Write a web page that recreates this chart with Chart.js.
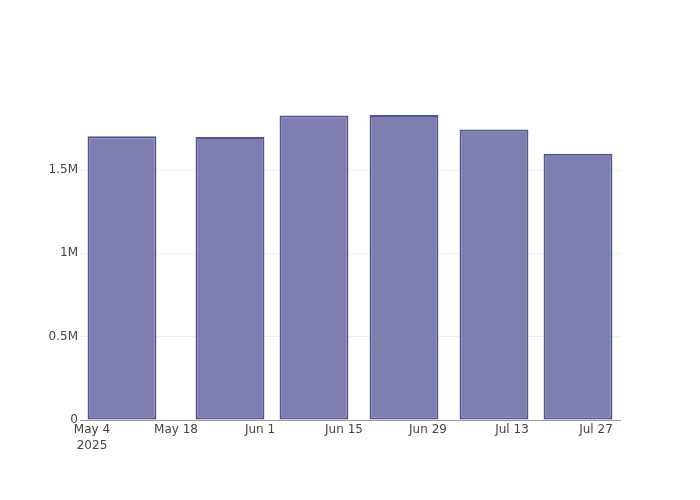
<!DOCTYPE html>
<html>
<head>
<meta charset="utf-8">
<script src="https://cdn.jsdelivr.net/npm/chart.js@4"></script>
<style>
html,body{margin:0;padding:0;background:#fff;}
#wrap{width:700px;height:500px;position:relative;}
</style>
</head>
<body>
<div id="wrap"><canvas id="c" width="700" height="500"></canvas></div>
<script>
const categories = ['2025-05-09','2025-05-27','2025-06-10','2025-06-25','2025-07-10','2025-07-24'];
const values = [1702000, 1698000, 1827000, 1830000, 1743000, 1597000];
const tickDates = ['2025-05-04','2025-05-18','2025-06-01','2025-06-15','2025-06-29','2025-07-13','2025-07-27'];
const tickLabels = [['May 4','2025'],'May 18','Jun 1','Jun 15','Jun 29','Jul 13','Jul 27'];
const yTicks = [0, 500000, 1000000, 1500000];
const yTickLabels = ['0','0.5M','1M','1.5M'];
const xRangeDates = ['2025-05-02','2025-07-31'];
const yMax = 1920000;

const base = Date.parse('2025-05-04T00:00:00Z');
const day = d => (Date.parse(d + 'T00:00:00Z') - base) / 86400000;

const tickPos = tickDates.map(day);
const data = categories.map((c, i) => ({x: day(c), y: values[i]}));

const font = {family: '"DejaVu Sans", verdana, arial, sans-serif', size: 12, lineHeight: 1.3};

new Chart(document.getElementById('c'), {
  type: 'bar',
  data: {
    datasets: [{
      data: data,
      backgroundColor: '#7f7faf',
      borderColor: '#52529a',
      borderWidth: 2,
      borderSkipped: false,
      barPercentage: 0.82,
      categoryPercentage: 1.0
    }]
  },
  options: {
    responsive: false,
    animation: false,
    layout: {padding: {left: 0, right: 80, top: 100, bottom: 0}},
    plugins: {legend: {display: false}, tooltip: {enabled: false}},
    scales: {
      x: {
        type: 'linear',
        offset: false,
        min: day(xRangeDates[0]),
        max: day(xRangeDates[1]),
        afterBuildTicks: s => { s.ticks = tickPos.map(v => ({value: v})); },
        afterFit: s => { s.height = 80; },
        grid: {display: false, drawTicks: false},
        border: {display: true, color: '#999', width: 1},
        ticks: {
          color: '#444', font: font, padding: 2, maxRotation: 0, autoSkip: false,
          callback: (v) => { const i = tickPos.indexOf(v); return i >= 0 ? tickLabels[i] : ''; }
        }
      },
      y: {
        min: 0,
        max: yMax,
        afterBuildTicks: s => { s.ticks = yTicks.map(v => ({value: v})); },
        afterFit: s => { s.width = 80; },
        grid: {color: '#eeeeee', drawTicks: false, lineWidth: 1},
        border: {display: false},
        ticks: {
          color: '#444', font: font, padding: 2,
          callback: (v) => { const i = yTicks.indexOf(v); return i >= 0 ? yTickLabels[i] : ''; }
        }
      }
    }
  }
});
</script>
</body>
</html>
